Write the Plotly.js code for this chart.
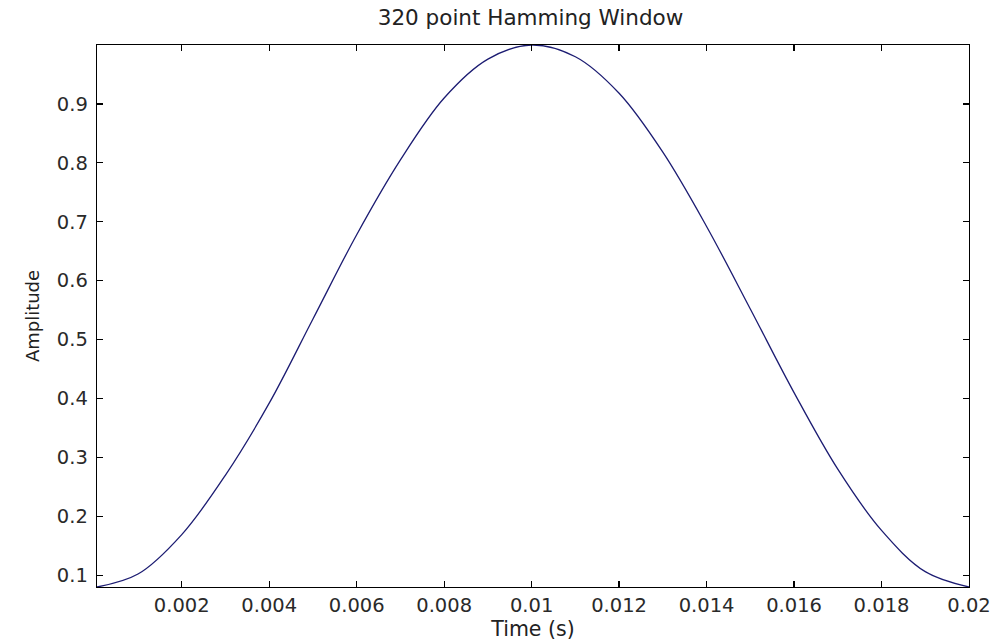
<!DOCTYPE html>
<html>
<head>
<meta charset="utf-8">
<script src="https://cdn.plot.ly/plotly-3.0.1.min.js"></script>
<style>html,body{margin:0;padding:0;background:#fff;}#chart{width:1001px;height:644px;}</style>
</head>
<body>
<div id="chart"></div>
<script>
// Time (s) and window amplitude
var timeS = [0.0000625, 0.001, 0.002, 0.003, 0.004, 0.005, 0.006, 0.007, 0.008, 0.009, 0.01,
             0.011, 0.012, 0.013, 0.014, 0.015, 0.016, 0.017, 0.018, 0.019, 0.02];
var amplitude = [0.08, 0.102, 0.169, 0.27, 0.392, 0.535, 0.678, 0.805, 0.91, 0.976, 1.0,
                 0.98, 0.918, 0.818, 0.692, 0.552, 0.41, 0.28, 0.176, 0.106, 0.08];
var xTickVals = [0.002, 0.004, 0.006, 0.008, 0.01, 0.012, 0.014, 0.016, 0.018, 0.02];
var xTickText = ["0.002", "0.004", "0.006", "0.008", "0.01", "0.012", "0.014", "0.016", "0.018", "0.02"];
var yTickVals = [0.1, 0.2, 0.3, 0.4, 0.5, 0.6, 0.7, 0.8, 0.9];
var yTickText = ["0.1", "0.2", "0.3", "0.4", "0.5", "0.6", "0.7", "0.8", "0.9"];

var font = "DejaVu Sans, Arial, sans-serif";
var trace = {
  x: timeS, y: amplitude, type: "scatter", mode: "lines",
  line: {color: "#1c1c72", width: 1.3, shape: "spline", smoothing: 1},
  hoverinfo: "none"
};
var axisCommon = {
  showgrid: false, zeroline: false, showline: true, linecolor: "#000", linewidth: 1.3,
  mirror: "ticks", ticks: "inside", ticklen: 6, tickwidth: 1.3, tickcolor: "#000",
  tickfont: {family: font, size: 19.5, color: "#2a2a2a"}
};
var layout = {
  width: 1001, height: 644,
  margin: {l: 97, r: 32, t: 45, b: 57},
  paper_bgcolor: "#fff", plot_bgcolor: "#fff",
  showlegend: false,
  title: {text: "320 point Hamming Window", font: {family: font, size: 21.5, color: "#222"},
          x: 0.53, xanchor: "center", y: 0.973, yanchor: "middle"},
  xaxis: Object.assign({}, axisCommon, {
    range: [0.0000625, 0.02], tickvals: xTickVals, ticktext: xTickText,
    title: {text: "Time (s)", font: {family: font, size: 20.5, color: "#222"}, standoff: 5}
  }),
  yaxis: Object.assign({}, axisCommon, {
    range: [0.08, 1.0], tickvals: yTickVals, ticktext: yTickText, ticklabelstandoff: 4,
    title: {text: "Amplitude", font: {family: font, size: 18, color: "#222"}, standoff: 12}
  })
};
Plotly.newPlot("chart", [trace], layout, {displayModeBar: false, staticPlot: true});
</script>
</body>
</html>
